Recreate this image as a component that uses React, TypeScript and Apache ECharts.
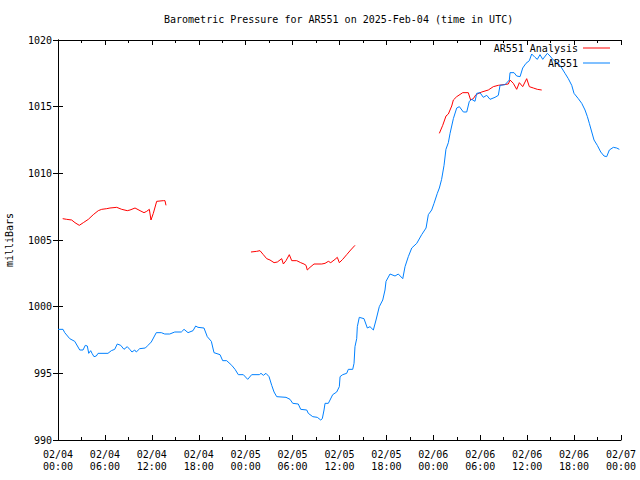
import React, { useEffect, useRef } from "react";
import * as echarts from "echarts";

// hours since 2025-02-04 00:00 UTC, pressure (mb)
const stationHours = [0, 0.64, 0.86, 1.5, 2.14, 2.78, 3.2, 3.49, 3.75, 3.93, 4.18, 4.35, 4.6, 4.9, 5.12, 6.39, 6.82, 7.25, 7.58, 8.02, 8.44, 8.86, 9.17, 9.46, 9.81, 10.01, 10.45, 11.17, 11.51, 11.93, 12.57, 13.21, 13.65, 14.29, 14.93, 15.77, 16.12, 16.63, 17.27, 17.61, 17.9, 18.67, 19.09, 19.61, 19.95, 20.72, 21.06, 21.57, 22.22, 22.64, 23.06, 23.7, 24.26, 24.77, 25.75, 25.96, 26.26, 26.6, 26.99, 27.33, 27.63, 27.97, 29.16, 29.67, 30.02, 30.73, 31.04, 31.81, 32.01, 32.58, 33.16, 33.6, 33.8, 34.02, 34.15, 34.57, 34.79, 35.13, 35.64, 35.98, 36.07, 36.41, 36.92, 37.13, 37.69, 37.86, 37.98, 38.2, 38.28, 38.53, 39.13, 39.56, 39.9, 40.33, 40.67, 41.09, 41.53, 41.82, 41.95, 42.46, 43.1, 43.52, 44.09, 44.38, 44.8, 45.24, 45.88, 46.51, 47.07, 47.36, 47.79, 48.09, 48.51, 48.77, 49.06, 49.37, 49.61, 49.92, 50.14, 50.56, 50.99, 51.33, 51.84, 52.27, 52.6, 52.91, 53.33, 53.55, 53.97, 54.39, 54.83, 55.25, 55.89, 56.31, 56.53, 57.17, 57.72, 57.81, 58.32, 58.66, 59.09, 59.43, 59.85, 60.28, 60.58, 61.0, 61.3, 61.64, 61.99, 62.58, 62.92, 63.35, 63.99, 64.42, 64.84, 65.26, 65.7, 65.99, 66.54, 66.98, 67.4, 67.7, 67.95, 68.26, 68.55, 68.97, 69.41, 69.83, 70.17, 70.51, 71.02, 71.45, 71.79];
const stationPressure = [998.3, 998.3, 998.05, 997.6, 997.4, 996.75, 996.75, 997.1, 997.05, 996.5, 996.7, 996.5, 996.25, 996.3, 996.5, 996.5, 996.7, 996.8, 997.2, 997.1, 996.8, 997.0, 996.8, 996.6, 996.75, 996.6, 996.85, 996.9, 997.1, 997.35, 998.05, 998.05, 997.95, 997.95, 998.1, 998.1, 998.3, 998.05, 998.2, 998.55, 998.45, 998.4, 997.75, 997.4, 996.55, 996.4, 995.95, 995.95, 995.6, 995.3, 994.9, 994.9, 994.55, 994.9, 994.9, 995.0, 994.85, 995.0, 994.75, 994.1, 993.6, 993.25, 993.2, 993.05, 992.75, 992.7, 992.3, 992.25, 992.0, 991.75, 991.7, 991.5, 991.6, 992.25, 992.75, 992.75, 993.0, 993.4, 993.6, 994.0, 994.75, 994.9, 995.0, 995.3, 995.3, 995.75, 997.0, 997.6, 998.5, 999.2, 999.1, 998.4, 998.5, 998.25, 999.0, 1000.0, 1000.5, 1001.25, 1001.9, 1002.45, 1002.3, 1002.45, 1002.1, 1003.0, 1003.75, 1004.4, 1004.75, 1005.4, 1005.9, 1006.9, 1007.25, 1007.75, 1008.5, 1008.9, 1009.55, 1010.6, 1011.8, 1012.3, 1013.0, 1014.1, 1014.9, 1015.0, 1014.6, 1014.6, 1015.4, 1015.55, 1015.4, 1016.0, 1016.05, 1015.7, 1015.85, 1015.55, 1015.7, 1015.85, 1016.6, 1016.65, 1017.0, 1017.55, 1017.55, 1017.3, 1017.25, 1017.9, 1018.25, 1018.45, 1018.95, 1018.7, 1018.55, 1018.9, 1018.55, 1019.0, 1018.8, 1018.5, 1018.25, 1017.9, 1017.5, 1017.1, 1016.6, 1016.0, 1015.6, 1015.25, 1014.75, 1014.25, 1013.75, 1013.1, 1012.5, 1012.1, 1011.6, 1011.3, 1011.25, 1011.75, 1011.95, 1011.9, 1011.8];

const analysis1Hours = [0.6, 1.11, 1.75, 2.17, 2.72, 3.24, 3.88, 4.51, 5.15, 5.59, 6.23, 6.65, 7.51, 8.15, 8.86, 9.21, 9.85, 10.49, 11.0, 11.34, 11.68, 11.89, 12.19, 12.62, 13.47, 13.68, 13.81];
const analysis1Pressure = [1006.6, 1006.55, 1006.5, 1006.3, 1006.1, 1006.3, 1006.55, 1006.9, 1007.2, 1007.3, 1007.35, 1007.4, 1007.45, 1007.3, 1007.2, 1007.25, 1007.4, 1007.2, 1007.05, 1007.15, 1007.3, 1006.5, 1007.0, 1007.9, 1007.95, 1007.95, 1007.6];

const analysis2Hours = [24.68, 25.41, 25.83, 26.26, 26.69, 27.11, 27.63, 28.05, 28.61, 28.82, 29.16, 29.58, 29.89, 30.53, 31.04, 31.46, 31.72, 31.88, 32.23, 32.74, 33.73, 34.15, 34.57, 34.88, 35.43, 35.72, 35.98, 36.41, 36.92, 37.43, 37.98];
const analysis2Pressure = [1004.1, 1004.15, 1004.2, 1003.9, 1003.6, 1003.5, 1003.3, 1003.35, 1003.6, 1003.2, 1003.45, 1003.9, 1003.45, 1003.45, 1003.3, 1003.2, 1003.1, 1002.75, 1002.95, 1003.2, 1003.2, 1003.25, 1003.4, 1003.3, 1003.55, 1003.7, 1003.3, 1003.55, 1003.9, 1004.25, 1004.6];

const analysis3Hours = [48.77, 49.2, 49.62, 49.92, 50.35, 50.56, 50.99, 51.76, 52.47, 52.77, 53.11, 53.45, 54.19, 55.03, 55.67, 56.31, 57.59, 57.81, 58.23, 58.66, 59.0, 59.43, 59.94, 60.28, 60.79, 61.3, 61.86];
const analysis3Pressure = [1013.0, 1013.6, 1014.3, 1014.45, 1015.05, 1015.5, 1015.75, 1016.05, 1016.05, 1015.5, 1015.6, 1015.9, 1016.1, 1016.25, 1016.5, 1016.6, 1016.7, 1017.0, 1016.75, 1016.3, 1016.8, 1016.5, 1017.1, 1016.5, 1016.4, 1016.3, 1016.25];

const titleText = "Barometric Pressure for AR551 on 2025-Feb-04 (time in UTC)";
const yName = "milliBars";
const seriesNames = ["AR551 Analysis", "AR551"];
const xMin = 0, xMax = 72, xStep = 6;
const yMin = 990, yMax = 1020, yStep = 5;

const FONT = "DejaVu Sans Mono";
const RED = "#ff0000";
const BLUE = "#0080ff";

function zip(a: number[], b: number[]) {
  return a.map((v, i) => [v, b[i]]);
}

function timeLabel(v: number) {
  const day = 4 + Math.floor(v / 24);
  const hh = v % 24;
  return `02/${String(day).padStart(2, "0")}\n${String(hh).padStart(2, "0")}:00`;
}

export default function App() {
  const ref = useRef<HTMLDivElement>(null);
  useEffect(() => {
    if (!ref.current) return;
    const chart = echarts.init(ref.current, undefined, { renderer: "svg" });
    const axisLine = { show: true, lineStyle: { color: "#000", width: 1 } };
    const txt = { fontFamily: FONT, fontSize: 10, color: "#000" };
    const redLine = (data: number[][]) => ({
      type: "line",
      name: seriesNames[0],
      data,
      showSymbol: false,
      symbol: "none",
      lineStyle: { color: RED, width: 1 },
      itemStyle: { color: RED },
      xAxisIndex: 0,
      yAxisIndex: 0,
    });
    chart.setOption({
      animation: false,
      backgroundColor: "#fff",
      title: {
        text: titleText,
        left: 164,
        top: 14,
        padding: 0,
        textStyle: { ...txt, fontWeight: "normal", fontSize: 10 },
      },
      legend: [
        {
          data: [seriesNames[0]],
          right: 30,
          top: 43,
          align: "right",
          orient: "vertical",
          icon: "rect",
          itemWidth: 27,
          itemHeight: 1,
          itemGap: 0,
          padding: 0,
          textStyle: { ...txt, fontSize: 10 },
          selectedMode: false,
        },
        {
          data: [seriesNames[1]],
          right: 30,
          top: 58,
          align: "right",
          orient: "vertical",
          icon: "rect",
          itemWidth: 27,
          itemHeight: 1,
          itemGap: 0,
          padding: 0,
          textStyle: { ...txt, fontSize: 10 },
          selectedMode: false,
        },
      ],
      grid: { left: 58, right: 19, top: 40, bottom: 40, containLabel: false, outerBoundsMode: "none" },
      xAxis: [
        {
          type: "value",
          min: xMin,
          max: xMax,
          interval: xStep,
          position: "bottom",
          axisLine,
          axisTick: { show: true, inside: true, length: 5, lineStyle: { color: "#000" } },
          minorTick: { show: true, splitNumber: 2, length: 3, lineStyle: { color: "#000" } },
          splitLine: { show: false },
          axisLabel: { ...txt, margin: 8, lineHeight: 12, formatter: timeLabel },
        },
        {
          type: "value",
          min: xMin,
          max: xMax,
          interval: xStep,
          position: "top",
          axisLine,
          axisTick: { show: true, inside: true, length: 5, lineStyle: { color: "#000" } },
          minorTick: { show: true, splitNumber: 2, length: 3, lineStyle: { color: "#000" } },
          splitLine: { show: false },
          axisLabel: { show: false },
        },
      ],
      yAxis: [
        {
          type: "value",
          min: yMin,
          max: yMax,
          interval: yStep,
          position: "left",
          name: yName,
          nameLocation: "middle",
          nameGap: 44,
          nameRotate: 90,
          nameTextStyle: { ...txt },
          axisLine,
          axisTick: { show: true, inside: true, length: 5, lineStyle: { color: "#000" } },
          splitLine: { show: false },
          axisLabel: { ...txt, margin: 6, formatter: (v: number) => String(v) },
        },
        {
          type: "value",
          min: yMin,
          max: yMax,
          interval: yStep,
          position: "right",
          axisLine,
          axisTick: { show: true, inside: true, length: 5, lineStyle: { color: "#000" } },
          splitLine: { show: false },
          axisLabel: { show: false },
        },
      ],
      series: [
        redLine(zip(analysis1Hours, analysis1Pressure)),
        redLine(zip(analysis2Hours, analysis2Pressure)),
        redLine(zip(analysis3Hours, analysis3Pressure)),
        {
          type: "line",
          name: seriesNames[1],
          data: zip(stationHours, stationPressure),
          showSymbol: false,
          symbol: "none",
          lineStyle: { color: BLUE, width: 1 },
          itemStyle: { color: BLUE },
          xAxisIndex: 0,
          yAxisIndex: 0,
        },
      ],
    });
    return () => chart.dispose();
  }, []);
  return <div ref={ref} style={{ width: 640, height: 480, position: "absolute", left: 0, top: 0 }} />;
}
